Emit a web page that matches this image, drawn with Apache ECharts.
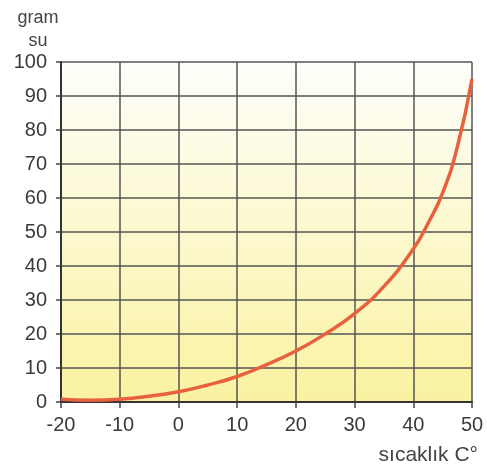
<!DOCTYPE html>
<html>
<head>
<meta charset="utf-8">
<script src="https://cdn.jsdelivr.net/npm/echarts@6/dist/echarts.min.js"></script>
<style>
  html, body { margin: 0; padding: 0; background: #fff; }
  #main { width: 487px; height: 466px; }
</style>
</head>
<body>
<div id="main"></div>
<script>
// temperature (°C) and grams of water
var temps = [-20, -15, -10, -5, 0, 5, 10, 15, 20, 25, 30, 35, 40, 42.5, 45, 47.5, 50];
var grams = [0.8, 0.5, 0.8, 1.7, 3, 5, 7.5, 11, 15, 20, 26, 34, 45, 52.5, 61.5, 75, 95];
var xTicks = [-20, -10, 0, 10, 20, 30, 40, 50];
var yTicks = [0, 10, 20, 30, 40, 50, 60, 70, 80, 90, 100];

var points = temps.map(function (t, i) { return [t, grams[i]]; });

var chart = echarts.init(document.getElementById('main'));
var font = 'Liberation Sans, Arial, sans-serif';
var labelFont = { color: '#3a3a3a', fontSize: 20, fontFamily: font };

var option = {
    animation: false,
    grid: {
        left: 61, right: 15, top: 62, bottom: 64,
        show: true,
        borderWidth: 0,
        backgroundColor: new echarts.graphic.LinearGradient(0, 0, 0, 1, [
            { offset: 0, color: '#fefefb' },
            { offset: 0.3, color: '#fdfbe0' },
            { offset: 1, color: '#faf2a0' }
        ])
    },
    title: [
        { text: 'gram', left: 33, top: 4, textAlign: 'center',
          textStyle: { color: '#444', fontSize: 18, fontWeight: 'normal', fontFamily: font } },
        { text: 'su', left: 33, top: 27, textAlign: 'center',
          textStyle: { color: '#444', fontSize: 18, fontWeight: 'normal', fontFamily: font } },
        { text: 'sıcaklık C°', right: 4, top: 440,
          textStyle: { color: '#444', fontSize: 21, fontWeight: 'normal', fontFamily: font } }
    ],
    xAxis: {
        type: 'value',
        min: -20, max: 50, interval: 10,
        axisLine: { show: true, onZero: false, lineStyle: { color: '#333', width: 2 } },
        axisTick: { show: true, length: 6, lineStyle: { color: '#444', width: 1.5 } },
        axisLabel: Object.assign({ margin: 13, formatter: function (v) { return xTicks.indexOf(v) >= 0 ? v : ''; } }, labelFont),
        splitLine: { show: true, lineStyle: { color: '#555', width: 1.5 } }
    },
    yAxis: {
        type: 'value',
        min: 0, max: 100, interval: 10,
        axisLine: { show: true, onZero: false, lineStyle: { color: '#333', width: 2 } },
        axisTick: { show: true, length: 5, lineStyle: { color: '#444', width: 1.5 } },
        axisLabel: Object.assign({ margin: 14, formatter: function (v) { return yTicks.indexOf(v) >= 0 ? v : ''; } }, labelFont),
        splitLine: { show: true, lineStyle: { color: '#555', width: 1.5 } }
    },
    series: [{
        type: 'line',
        data: points,
        smooth: true,
        showSymbol: false,
        lineStyle: { color: '#e8613f', width: 3.5 },
        z: 5
    }]
};

chart.setOption(option);
</script>
</body>
</html>
